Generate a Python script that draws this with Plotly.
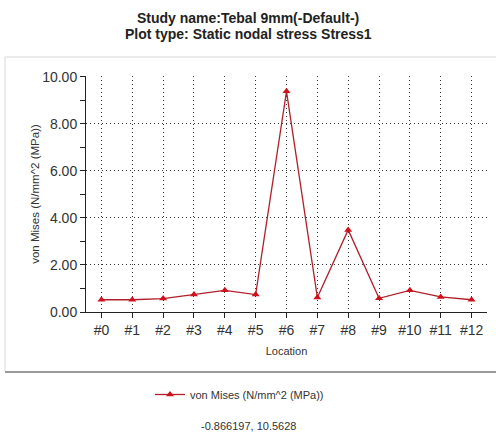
import plotly.graph_objects as go

# Nodal von Mises stress along the probed locations
locations = ["#0", "#1", "#2", "#3", "#4", "#5", "#6", "#7", "#8", "#9", "#10", "#11", "#12"]
von_mises = [0.52, 0.52, 0.57, 0.74, 0.92, 0.74, 9.38, 0.62, 3.49, 0.58, 0.92, 0.64, 0.52]
y_ticks = [0, 2, 4, 6, 8, 10]
y_tick_labels = ["0.00", "2.00", "4.00", "6.00", "8.00", "10.00"]
series_name = "von Mises (N/mm^2 (MPa))"
title_lines = ["Study name:Tebal 9mm(-Default-)", "Plot type: Static nodal stress Stress1"]
range_note = "-0.866197, 10.5628"

W, H = 496, 432
L, R, T, B = 86, 9, 76, 120
pw, ph = W - L - R, H - T - B


def px(x):
    return (x - L) / pw


def py(y):
    return (H - B - y) / ph


fig = go.Figure()
fig.add_trace(go.Scatter(
    x=list(range(len(locations))),
    y=von_mises,
    mode="lines+markers",
    name=series_name,
    line=dict(color="#b0202a", width=1.3),
    marker=dict(symbol="triangle-up", size=7, color="#d0101a"),
))

shapes = [
    dict(type="line", xref="paper", yref="paper", x0=px(5), x1=px(W), y0=py(57), y1=py(57),
         line=dict(color="#e4e4e4", width=1.5)),
    dict(type="line", xref="paper", yref="paper", x0=px(5), x1=px(5), y0=py(57), y1=py(372),
         line=dict(color="#e4e4e4", width=1.5)),
    dict(type="line", xref="paper", yref="paper", x0=px(5), x1=px(W), y0=py(372), y1=py(372),
         line=dict(color="#9a9a9a", width=2)),
]

grid_dash = "1px,3px"
tick_font = dict(family="Liberation Sans, Arial, sans-serif", size=14, color="#333333")

title_annotations = [
    dict(text=f"<b>{line}</b>", xref="paper", yref="paper", x=px(248), y=py(yc),
         xanchor="center", yanchor="middle", showarrow=False,
         font=dict(size=14, color="#222222", family="Liberation Sans, Arial, sans-serif"))
    for line, yc in zip(title_lines, [18, 34])
]

fig.update_layout(
    width=W, height=H,
    margin=dict(l=L, r=R, t=T, b=B),
    paper_bgcolor="white", plot_bgcolor="white",
    font=dict(family="Liberation Sans, Arial, sans-serif", color="#333333"),
    xaxis=dict(
        range=[-0.5, 12.5],
        tickmode="array", tickvals=list(range(len(locations))), ticktext=locations,
        showline=True, linecolor="#222222", linewidth=1,
        ticks="outside", ticklen=5, tickcolor="#222222",
        showgrid=True, gridcolor="#333333", griddash=grid_dash, gridwidth=1,
        zeroline=False,
        tickfont=tick_font,
        title=dict(text="Location", font=dict(size=11, color="#333333"), standoff=10),
    ),
    yaxis=dict(
        range=[0, 10.03],
        tickmode="array", tickvals=y_ticks, ticktext=y_tick_labels,
        showline=True, linecolor="#222222", linewidth=1,
        ticks="outside", ticklen=5, tickcolor="#222222",
        minor=dict(dtick=1, tick0=0, ticks="outside", ticklen=5, tickcolor="#222222", showgrid=False),
        showgrid=True, gridcolor="#333333", griddash=grid_dash, gridwidth=1,
        zeroline=False,
        tickfont=tick_font,
        title=dict(text=series_name, font=dict(size=11.5, color="#333333"), standoff=0),
    ),
    showlegend=True,
    legend=dict(
        orientation="h", x=px(150), xanchor="left", y=py(380), yanchor="top",
        font=dict(size=11, color="#333333"), bgcolor="rgba(0,0,0,0)",
    ),
    shapes=shapes,
    annotations=title_annotations + [
        dict(text=range_note, xref="paper", yref="paper", x=px(199), y=py(426),
             xanchor="left", yanchor="middle", showarrow=False,
             font=dict(size=11, color="#333333")),
    ],
)

fig.write_html("out.html")
